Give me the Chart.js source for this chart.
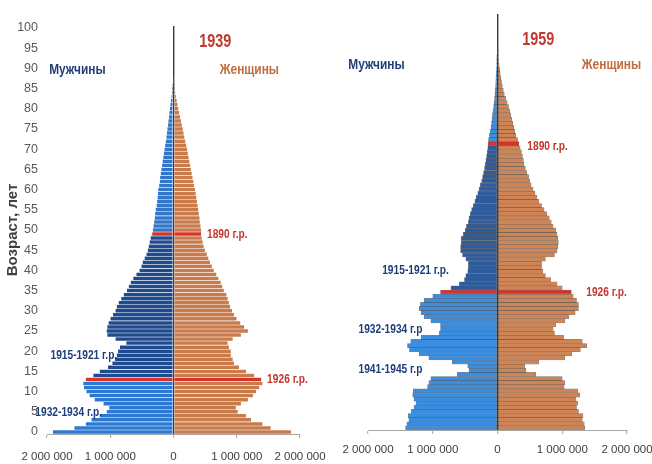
<!DOCTYPE html>
<html lang="ru">
<head>
<meta charset="utf-8">
<title>Половозрастные пирамиды 1939 и 1959</title>
<script src="https://cdn.jsdelivr.net/npm/chart.js@4.4.1/dist/chart.umd.min.js"></script>
<style>
  html, body { margin: 0; padding: 0; background: #fff; }
  #wrap { position: relative; width: 652px; height: 464px; overflow: hidden; }
  #wrap canvas { position: absolute; top: 0; }
  #c1939 { left: 0; }
  #c1959 { left: 326px; }
</style>
</head>
<body>
<div id="wrap">
  <canvas id="c1939" width="326" height="464"></canvas>
  <canvas id="c1959" width="326" height="464"></canvas>
</div>
<script>
// возраст, лет (категории 0..100) и подписи оси
const ages = Array.from({ length: 101 }, (_, i) => i)
const ageTicks = [0, 5, 10, 15, 20, 25, 30, 35, 40, 45, 50, 55, 60, 65, 70, 75, 80, 85, 90, 95, 100]
const xTicks = [-2000000, -1000000, 0, 1000000, 2000000]

// численность, тыс. человек, по возрасту 0, 1, 2 ...
const male1939 = [
  1910, 1570, 1390, 1300, 1170, 1060, 1020, 1110, 1250, 1330,
  1380, 1420, 1430, 1390, 1270, 1170, 1040, 970, 930, 900,
  880, 850, 750, 920, 1050, 1060, 1050, 1030, 1000, 960,
  920, 900, 870, 830, 790, 740, 710, 680, 640, 590,
  540, 510, 490, 460, 430, 410, 395, 380, 365, 340,
  330, 320, 310, 300, 295, 285, 270, 262, 255, 250,
  245, 230, 220, 215, 205, 195, 185, 175, 165, 155,
  145, 135, 125, 115, 108, 100, 92, 84, 75, 68,
  60, 52, 45, 35, 26, 18, 8
]
const female1939 = [
  1860, 1540, 1410, 1230, 1150, 1020, 990, 1070, 1180, 1260,
  1310, 1360, 1410, 1390, 1280, 1150, 1040, 960, 940, 910,
  910, 880, 860, 940, 1070, 1180, 1120, 1060, 1000, 960,
  930, 900, 880, 860, 840, 800, 775, 750, 715, 680,
  640, 610, 580, 555, 530, 500, 480, 465, 450, 440,
  440, 430, 420, 415, 405, 395, 385, 375, 365, 355,
  345, 330, 318, 305, 292, 280, 268, 255, 242, 230,
  220, 205, 190, 175, 162, 150, 136, 122, 108, 94,
  80, 66, 54, 42, 32, 22, 12, 5
]
const male1959 = [
  1420, 1400, 1370, 1380, 1330, 1290, 1260, 1290, 1310, 1300,
  1080, 1060, 1030, 620, 440, 460, 700, 1060, 1210, 1360,
  1390, 1340, 1180, 900, 880, 880, 1030, 1130, 1180, 1210,
  1190, 1130, 1000, 880, 720, 590, 510, 490, 460, 450,
  450, 490, 540, 570, 570, 560, 560, 530, 500, 480,
  450, 440, 420, 400, 375, 350, 330, 305, 285, 265,
  245, 230, 215, 200, 190, 180, 168, 158, 150, 145,
  138, 125, 110, 100, 92, 85, 78, 70, 60, 52,
  45, 40, 35, 30, 27, 24, 20, 15, 10, 6, 4
]
const female1959 = [
  1350, 1340, 1310, 1320, 1250, 1220, 1240, 1210, 1270, 1240,
  1030, 1040, 1000, 590, 440, 420, 640, 1040, 1150, 1280,
  1380, 1310, 1020, 880, 860, 900, 1040, 1100, 1200, 1250,
  1250, 1220, 1170, 1140, 1000, 920, 820, 740, 700, 680,
  680, 740, 880, 920, 930, 940, 930, 920, 900, 860,
  830, 800, 760, 720, 680, 640, 610, 580, 550, 520,
  500, 480, 455, 430, 410, 400, 385, 370, 350, 330,
  310, 285, 265, 250, 235, 220, 205, 190, 170, 150,
  125, 105, 90, 75, 62, 50, 42, 34, 25, 16, 10, 6, 4
]

// возраст выделенных поколений (1926 и 1890 г.р.)
const marked1939 = [13, 49]
const marked1959 = [33, 69]

const SANS = '"Liberation Sans", Arial, sans-serif'
const RED = '#d8322c'
const RED_TEXT = '#c2372f'
const BLUE_TEXT = '#1f3d7a'
const ORANGE_TEXT = '#c36b3a'

function fmt(v) {
  return String(Math.abs(v)).replace(/\B(?=(\d{3})+(?!\d))/g, ' ')
}

function maleColors(marked, low, mid, high) {
  return ages.map(a => {
    if (marked.includes(a)) return RED
    if (a < marked[0]) return low
    if (a < marked[1]) return mid
    return high
  })
}

function femaleColors(marked, base) {
  return ages.map(a => (marked.includes(a) ? RED : base))
}

// подписи, привязанные к шкалам; squeeze сужает шрифт по горизонтали
const notesPlugin = {
  id: 'notes',
  afterDatasetsDraw(chart, args, opts) {
    const { ctx, scales } = chart
    ;(opts.items || []).forEach(n => {
      ctx.save()
      ctx.translate(scales.x.getPixelForValue(n.x), scales.y.getPixelForValue(n.age))
      ctx.scale(n.squeeze, 1)
      ctx.font = n.font
      ctx.fillStyle = n.color
      ctx.textAlign = n.align
      ctx.textBaseline = 'middle'
      ctx.fillText(n.text, 0, 0)
      ctx.restore()
    })
  }
}

const F_YEAR = 'bold 18px ' + SANS
const F_SEX = 'bold 14px ' + SANS
const F_GEN = 'bold 12px ' + SANS

function note(text, x, age, align, color, font) {
  const squeeze = font === F_YEAR ? 0.8 : 0.85
  return { text, x, age, align, color, font, squeeze }
}

function makePyramid(id, males, females, look) {
  const ctx = document.getElementById(id).getContext('2d')
  return new Chart(ctx, {
    type: 'bar',
    data: {
      labels: ages,
      datasets: [
        {
          label: 'Мужчины',
          data: males.map(v => -v * 1000),
          backgroundColor: look.maleColors,
          borderColor: look.border,
          borderWidth: 0.6,
          borderSkipped: false
        },
        {
          label: 'Женщины',
          data: females.map(v => v * 1000),
          backgroundColor: look.femaleColors,
          borderColor: look.border,
          borderWidth: 0.6,
          borderSkipped: false
        }
      ]
    },
    options: {
      indexAxis: 'y',
      responsive: false,
      animation: false,
      events: [],
      layout: { padding: look.padding },
      datasets: { bar: { categoryPercentage: 1, barPercentage: 1 } },
      plugins: {
        legend: { display: false },
        tooltip: { enabled: false },
        notes: { items: look.notes }
      },
      scales: {
        x: {
          type: 'linear',
          stacked: true,
          min: xTicks[0],
          max: xTicks[xTicks.length - 1],
          afterBuildTicks: s => { s.ticks = xTicks.map(v => ({ value: v })) },
          ticks: {
            padding: look.xPad,
            color: '#404040',
            font: { family: SANS, size: 11.5 },
            maxRotation: 0,
            callback: v => fmt(v)
          },
          grid: {
            color: c => (c.tick && c.tick.value === 0 ? '#3a3a3a' : 'rgba(0,0,0,0)'),
            lineWidth: 1.4,
            drawTicks: true,
            tickLength: 4,
            tickColor: '#a6a6a6',
            tickWidth: 1
          },
          border: { display: true, color: '#a6a6a6', width: 1 },
          afterFit: s => {
            s.height = look.xHeight
            s.paddingLeft = 0
            s.paddingRight = 0
          }
        },
        y: {
          type: 'category',
          stacked: true,
          reverse: true,
          display: look.showAges,
          grid: { display: false, drawTicks: false },
          border: { display: false },
          ticks: {
            autoSkip: false,
            padding: 9,
            color: '#595959',
            font: { family: SANS, size: 12.5 },
            callback: (v, i) => (ageTicks.includes(ages[i]) ? String(ages[i]) : '')
          },
          title: {
            display: true,
            text: 'Возраст, лет',
            color: '#404040',
            font: { family: SANS, size: 15, weight: 'bold' },
            padding: { top: 4, bottom: 0 }
          },
          afterFit: s => {
            s.width = look.yWidth
            s.paddingTop = 0
            s.paddingBottom = 0
          }
        }
      }
    },
    plugins: [notesPlugin]
  })
}

makePyramid('c1939', male1939, female1939, {
  maleColors: maleColors(marked1939, '#2b79d4', '#1f4a8e', '#3276c9'),
  femaleColors: femaleColors(marked1939, '#c97b4c'),
  border: 'rgba(255,255,255,0.45)',
  padding: { left: 0, right: 26, top: 26, bottom: 0 },
  showAges: true,
  yWidth: 47,
  xHeight: 30,
  xPad: 12,
  notes: [
    note('1939', 660000, 96.5, 'center', RED_TEXT, F_YEAR),
    note('Мужчины', -1520000, 89.6, 'center', BLUE_TEXT, F_SEX),
    note('Женщины', 1200000, 89.6, 'center', ORANGE_TEXT, F_SEX),
    note('1890 г.р.', 530000, 48.8, 'left', RED_TEXT, F_GEN),
    note('1926 г.р.', 1480000, 12.9, 'left', RED_TEXT, F_GEN),
    note('1915-1921 г.р.', -890000, 18.8, 'right', BLUE_TEXT, F_GEN),
    note('1932-1934 г.р.', -1130000, 4.7, 'right', BLUE_TEXT, F_GEN)
  ]
})

makePyramid('c1959', male1959, female1959, {
  maleColors: maleColors(marked1959, '#3b8ddf', '#2e5b9b', '#3b8ddf'),
  femaleColors: femaleColors(marked1959, '#cf8455'),
  border: 'rgba(30,30,30,0.55)',
  padding: { left: 42, right: 25, top: 14, bottom: 0 },
  showAges: false,
  yWidth: 0,
  xHeight: 34,
  xPad: 9,
  notes: [
    note('1959', 630000, 94.2, 'center', RED_TEXT, F_YEAR),
    note('Мужчины', -1870000, 88.1, 'center', BLUE_TEXT, F_SEX),
    note('Женщины', 1760000, 88.1, 'center', ORANGE_TEXT, F_SEX),
    note('1890 г.р.', 460000, 68.2, 'left', RED_TEXT, F_GEN),
    note('1915-1921 г.р.', -750000, 38.3, 'right', BLUE_TEXT, F_GEN),
    note('1926 г.р.', 1370000, 32.8, 'left', RED_TEXT, F_GEN),
    note('1932-1934 г.р', -1160000, 23.8, 'right', BLUE_TEXT, F_GEN),
    note('1941-1945 г.р', -1160000, 14.1, 'right', BLUE_TEXT, F_GEN)
  ]
})
</script>
</body>
</html>
